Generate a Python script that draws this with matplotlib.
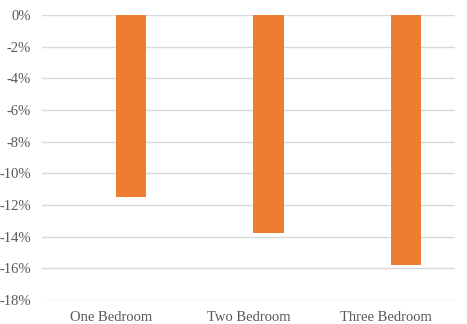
import numpy as np
import matplotlib.pyplot as plt
from matplotlib.ticker import FuncFormatter

# data
categories = ['One Bedroom', 'Two Bedroom', 'Three Bedroom']
change_pct = [-11.5, -13.75, -15.8]
y_ticks = [0, -2, -4, -6, -8, -10, -12, -14, -16, -18]

plt.rcParams['font.family'] = ['Liberation Serif', 'DejaVu Serif']
plt.rcParams['axes.unicode_minus'] = False

fig = plt.figure(figsize=(4.67, 3.24), dpi=100)
ax = fig.add_axes([0.09, 0.074, 0.884, 0.880])

# bars sit a little right of the category centre (second, empty series slot)
x = np.arange(len(categories))
ax.bar(x + 0.145, change_pct, width=0.22, color='#ED7D31', zorder=3)

# axes styling
ax.set_xlim(-0.5, len(categories) - 0.5)
ax.set_ylim(-18, 0)
ax.set_yticks(y_ticks)
ax.yaxis.set_major_formatter(FuncFormatter(lambda v, p: f'{v:.0f}%'))
ax.set_xticks(x)
ax.set_xticklabels(categories)
ax.grid(axis='y', color='#D9D9D9', linewidth=1, zorder=0)
for s in ax.spines.values():
    s.set_visible(False)
ax.tick_params(axis='both', length=0, colors='#595959', labelsize=10.5)
ax.tick_params(axis='y', pad=8)
ax.tick_params(axis='x', pad=8)

fig.savefig('out.png', dpi=100)
